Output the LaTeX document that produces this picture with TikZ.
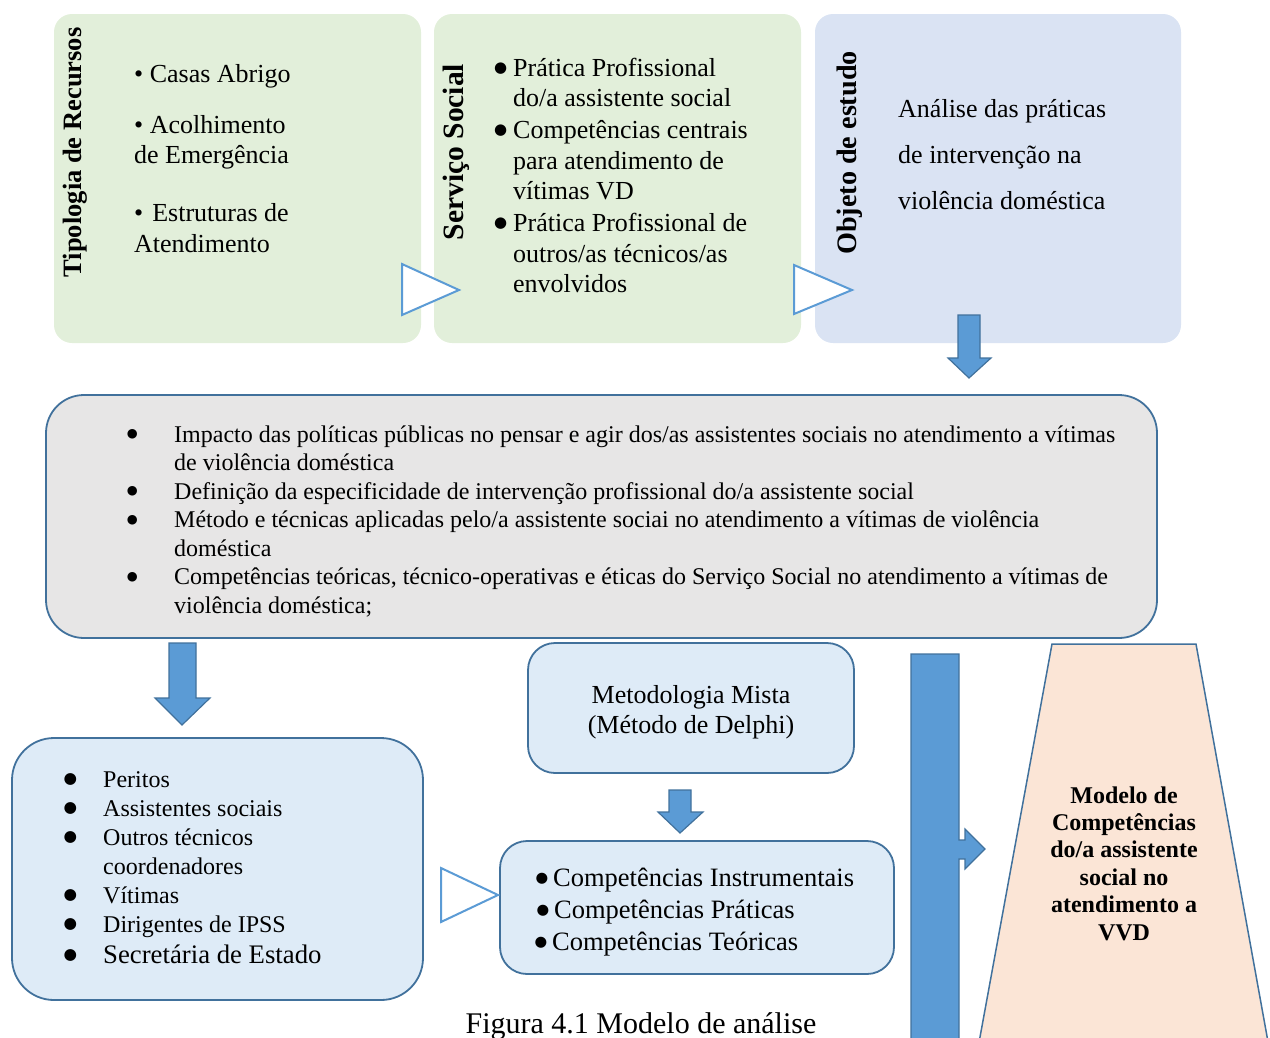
\documentclass[tikz,border=0pt]{standalone}
\usepackage{fontspec}
\setmainfont{Liberation Serif}
\newfontfamily\symf{DejaVu Sans}
\definecolor{grn}{HTML}{E2EFDA}
\definecolor{obj}{HTML}{DAE3F3}
\definecolor{gry}{HTML}{E7E6E6}
\definecolor{lblue}{HTML}{DEEBF7}
\definecolor{peach}{HTML}{FBE5D6}
\definecolor{bord}{HTML}{41719C}
\definecolor{afill}{HTML}{5B9BD5}
% round bullet: size, raise
\newcommand{\dbul}[2]{\makebox[0.35em]{\raisebox{#2}{\fontsize{#1}{#1}\selectfont\symf ●}}}
\begin{document}
\begin{tikzpicture}[x=1pt,y=-1pt,
  topbox/.style={rectangle, rounded corners=18pt, inner sep=0pt, draw=none},
  roundbox/.style={rectangle, draw=bord, line width=1.8pt, inner sep=0pt},
  blockarrow/.style={fill=afill, draw=bord, line width=1.2pt, line join=miter},
  tri/.style={draw=afill, line width=2pt, fill=white, line join=miter},
  vtitle/.style={rotate=90, anchor=base, inner sep=0pt},
  txt/.style={anchor=base west, inner sep=0pt},
  ctxt/.style={anchor=base, inner sep=0pt}]
\useasboundingbox (0,0) rectangle (1270,1037);
\clip (0,0) rectangle (1270,1037);

% top boxes
\node[topbox, fill=grn, minimum width=367pt, minimum height=329pt] (b1) at (237.5,178.5) {};
\node[topbox, fill=grn, minimum width=367pt, minimum height=329pt] (b2) at (617.5,178.5) {};
\node[topbox, fill=obj, minimum width=366pt, minimum height=329pt] (b3) at (998,178.5) {};

\node[vtitle, font=\fontsize{26.5}{30}\selectfont\bfseries] (h1) at (81,152.5) {Tipologia de Recursos};
\node[vtitle, font=\fontsize{29.5}{33}\selectfont\bfseries] (h2) at (463,152) {Serviço Social};
\node[vtitle, font=\fontsize{28.2}{32}\selectfont\bfseries] (h3) at (856,153) {Objeto de estudo};

\node[txt, font=\fontsize{26}{30.5}\selectfont] (t1) at (134,82)
 {\begin{tabular}[t]{@{}l@{}}• Casas Abrigo\\[20.5pt] • Acolhimento\\ de Emergência\\[27.5pt] •\hspace{9pt}Estruturas de\\ Atendimento\end{tabular}};

\node[txt, font=\fontsize{26}{30.5}\selectfont] (t2) at (496,76)
 {\begin{tabular}[t]{@{}l@{\hspace{7.9pt}}l@{}}\dbul{15}{4pt}&Prática Profissional\\ &do/a assistente social\\[1.5pt] \dbul{15}{4pt}&Competências centrais\\ &para atendimento de\\ &vítimas VD\\[1.5pt] \dbul{15}{4pt}&Prática Profissional de\\ &outros/as técnicos/as\\ &envolvidos\end{tabular}};

\node[txt, font=\fontsize{26}{46}\selectfont] (t3) at (898,117)
 {\begin{tabular}[t]{@{}l@{}}Análise das práticas\\ de intervenção na\\ violência doméstica\end{tabular}};

% triangles
\draw[tri] (402,264) -- (459,290) -- (402,315) -- cycle;
\draw[tri] (794,265) -- (852,290) -- (794,314) -- cycle;

% arrow from objeto
\draw[blockarrow] (958,315) -- (980,315) -- (980,358) -- (991,358) -- (969,378) -- (948,358) -- (958,358) -- cycle;

% gray box
\node[roundbox, fill=gry, rounded corners=38pt, minimum width=1111pt, minimum height=243pt] (g) at (601.5,516.5) {};
\node[txt, font=\fontsize{24}{28.5}\selectfont] (tg) at (128,442)
 {\begin{tabular}[t]{@{}l@{\hspace{37.6pt}}l@{}}\dbul{12.5}{4.5pt}&Impacto das políticas públicas no pensar e agir dos/as assistentes sociais no atendimento a vítimas\\
 &de violência doméstica\\
 \dbul{12.5}{4.5pt}&Definição da especificidade de intervenção profissional do/a assistente social\\
 \dbul{12.5}{4.5pt}&Método e técnicas aplicadas pelo/a assistente sociai no atendimento a vítimas de violência\\
 &doméstica\\
 \dbul{12.5}{4.5pt}&Competências teóricas, técnico-operativas e éticas do Serviço Social no atendimento a vítimas de\\
 &violência doméstica;\end{tabular}};

% arrow down left
\draw[blockarrow] (169,643) -- (196,643) -- (196,698) -- (210,698) -- (182,725) -- (155,698) -- (169,698) -- cycle;

% left bottom box
\node[roundbox, fill=lblue, rounded corners=42pt, minimum width=411pt, minimum height=262pt] (lb) at (217.5,869) {};
\node[txt, font=\fontsize{24}{29}\selectfont] (tl) at (66,787)
 {\begin{tabular}[t]{@{}l@{\hspace{28.6pt}}l@{}}\dbul{15.5}{3.5pt}&Peritos\\ \dbul{15.5}{3.5pt}&Assistentes sociais\\ \dbul{15.5}{3.5pt}&Outros técnicos\\ &coordenadores\\ \dbul{15.5}{3.5pt}&Vítimas\\ \dbul{15.5}{3.5pt}&Dirigentes de IPSS\\[2pt] \dbul{15.5}{3.5pt}&\fontsize{26.75}{31}\selectfont Secretária de Estado\end{tabular}};

% metodologia
\node[roundbox, fill=lblue, rounded corners=27pt, minimum width=326pt, minimum height=130pt] (mb) at (691,708) {};
\node[ctxt, font=\fontsize{26}{30}\selectfont] (tm) at (691,703)
 {\begin{tabular}[t]{@{}c@{}}Metodologia Mista\\ (Método de Delphi)\end{tabular}};

\draw[blockarrow] (669,790) -- (691,790) -- (691,812) -- (703,812) -- (680,833) -- (658,812) -- (669,812) -- cycle;

% competencias
\node[roundbox, fill=lblue, rounded corners=27pt, minimum width=394pt, minimum height=133pt] (cb) at (697,907.5) {};
\node[txt, font=\fontsize{26.5}{32}\selectfont] (tc) at (537,886)
 {\begin{tabular}[t]{@{}l@{}}\dbul{14.5}{4pt} Competências Instrumentais\\ \hspace{1pt}\dbul{14.5}{4pt} Competências Práticas\\ \hspace{-1pt}\dbul{14.5}{4pt} Competências Teóricas\end{tabular}};

\draw[tri] (441,868) -- (498,895) -- (441,922) -- cycle;

% big arrow
\draw[blockarrow] (911,654) -- (959,654) -- (959,840) -- (965,840) -- (965,829) -- (985,849) -- (965,869) -- (965,859) -- (959,859) -- (959,1060) -- (911,1060) -- cycle;

% trapezoid
\draw[fill=peach, draw=bord, line width=1.5pt] (1052,644) -- (1196,644) -- (1271.3,1060) -- (975.8,1060) -- cycle;
\node[ctxt, font=\fontsize{24}{27.4}\selectfont\bfseries] (tt) at (1124,803)
 {\begin{tabular}[t]{@{}c@{}}Modelo de\\ Competências\\ do/a assistente\\ social no\\ atendimento a\\ VVD\end{tabular}};

% caption
\node[ctxt, font=\fontsize{30}{33}\selectfont] (cap) at (641,1033) {Figura 4.1 Modelo de análise};
\end{tikzpicture}
\end{document}
